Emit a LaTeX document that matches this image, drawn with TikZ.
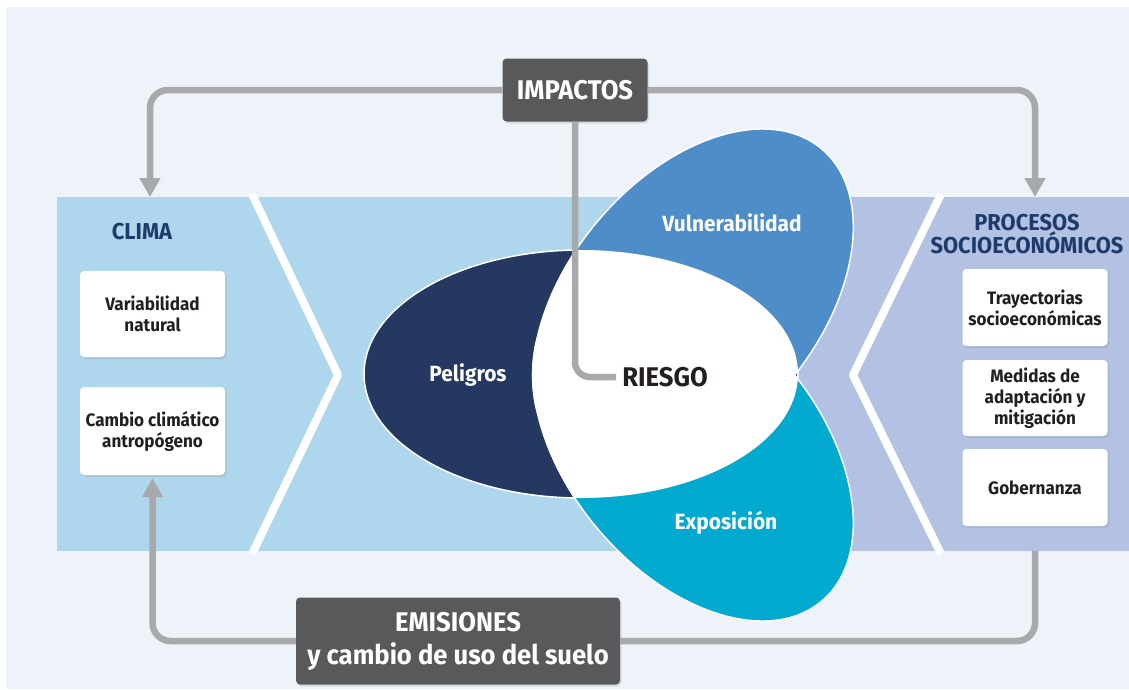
\documentclass[tikz,border=0pt]{standalone}
\usepackage{fontspec}
\setmainfont{Fira Sans}[FakeStretch = 0.95]
\usetikzlibrary{arrows.meta,shadows}
\definecolor{pagebg}{HTML}{EEF3FA}
\definecolor{climablue}{HTML}{AED6EC}
\definecolor{sociolav}{HTML}{B3C2E3}
\definecolor{peligronavy}{HTML}{243862}
\definecolor{vulnblue}{HTML}{4E8DCA}
\definecolor{expocyan}{HTML}{02AAD0}
\definecolor{linkgray}{HTML}{A7A9AC}
\definecolor{darkbox}{HTML}{59595B}
\definecolor{headnavy}{HTML}{1F3B6A}
\definecolor{ink}{HTML}{231F20}

\begin{document}
\begin{tikzpicture}[
        x = 1pt, y = -1pt,
        > = {Triangle[width = 20pt, length = 19pt]},
        link/.style = {draw = linkgray, line width = 6.5pt, rounded corners = 18pt},
        softshadow/.style = {drop shadow = {shadow xshift = 1.5pt, shadow yshift = -2pt, opacity = 0.2}},
        card/.style = {fill = white, rounded corners = 4pt, minimum width = 145pt, inner sep = 2pt, align = center, text = ink, font = \bfseries\fontsize{18}{21}\selectfont, softshadow},
        darktag/.style = {fill = darkbox, rounded corners = 4pt, text = white, align = center, softshadow},
        petal/.style = {text = white, font = \bfseries\fontsize{22}{24}\selectfont},
        heading/.style = {text = headnavy, align = center, font = \bfseries\fontsize{23}{22}\selectfont}
    ]
        \useasboundingbox[fill = white] (0,0) rectangle (1129,689);
        \fill[pagebg] (6,7) rectangle (1129,689);

        % bands and chevrons
        \fill[climablue] (57,197) rectangle (780,551);
        \fill[sociolav] (780,197) rectangle (1129,551);
        \draw[white, line width = 8pt, line join = round] (252,194) -- (338,375) -- (252,554);
        \draw[white, line width = 8pt, line join = round] (941,194) -- (853,375) -- (941,554);

        % petals
        \filldraw[fill = peligronavy, draw = white, line width = 1.5pt] (581,374) ellipse [x radius = 217, y radius = 124];
        \filldraw[fill = vulnblue, draw = white, line width = 1.5pt, rotate around = {50:(693,302)}] (693,302) ellipse [x radius = 200, y radius = 125];
        \filldraw[fill = expocyan, draw = white, line width = 1.5pt, rotate around = {-50:(693,448)}] (693,448) ellipse [x radius = 200, y radius = 125];
        \begin{scope}
            \clip (581,374) ellipse [x radius = 217, y radius = 124];
            \fill[white, rotate around = {50:(693,302)}] (693,302) ellipse [x radius = 200, y radius = 125];
            \fill[white, rotate around = {-50:(693,448)}] (693,448) ellipse [x radius = 200, y radius = 125];
        \end{scope}
        \node[petal] (peligros) at (468,375) {Peligros};
        \node[petal] (vulnerabilidad) at (732,223) {Vulnerabilidad};
        \node[petal] (exposicion) at (726,523) {Exposición};
        \node[text = ink, inner sep = 6pt, font = \bfseries\fontsize{27}{30}\selectfont] (riesgo) at (665,377) {RIESGO};

        % side panels
        \node[heading] (clima) at (142,232) {CLIMA};
        \node[heading] (procesos) at (1027,234) {PROCESOS\\SOCIOECONÓMICOS};
        \node[card, minimum height = 86pt] (variabilidad) at (152.5,314) {Variabilidad\\natural};
        \node[card, minimum height = 88pt] (cambio) at (152.5,431) {Cambio climático\\antropógeno};
        \node[card, minimum height = 77pt] (trayectorias) at (1035,307.5) {Trayectorias\\socioeconómicas};
        \node[card, minimum height = 76pt] (medidas) at (1035,398) {Medidas de\\adaptación y\\mitigación};
        \node[card, minimum height = 77pt] (gobernanza) at (1035,487.5) {Gobernanza};

        % impacts and emissions loop
        \node[darktag, minimum width = 145pt, minimum height = 63pt, font = \bfseries\fontsize{27}{30}\selectfont] (impactos) at (575,90) {IMPACTOS};
        \node[darktag, minimum width = 324pt, minimum height = 87pt, font = \bfseries\fontsize{27}{33}\selectfont] (emisiones) at (458,641) {EMISIONES\\y cambio de uso del suelo};
        \coordinate (climatop) at (150,197);
        \coordinate (sociotop) at (1035,197);
        \coordinate (sociobot) at (1035,551);
        \draw[link, ->] (impactos.west) -| (climatop);
        \draw[link, ->] (impactos.east) -| (sociotop);
        \draw[link, rounded corners = 15pt] (impactos.south) |- (riesgo.west);
        \draw[link] (sociobot) |- (emisiones.east);
        \draw[link, ->, shorten > = 3pt] (emisiones.west) -| (cambio.south);
    \end{tikzpicture}
\end{document}
